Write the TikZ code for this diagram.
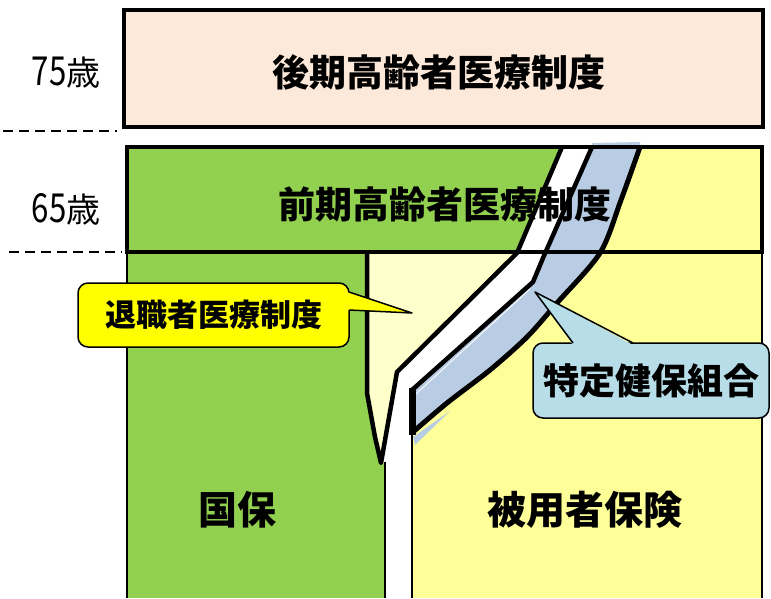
\documentclass[tikz,border=0pt]{standalone}
\usepackage{fontspec}
\newfontfamily\jp{Noto Sans CJK JP}
\definecolor{peach}{HTML}{FDE9D9}
\definecolor{kgreen}{HTML}{92D050}
\definecolor{kyellow}{HTML}{FFFF99}
\definecolor{lyellow}{HTML}{FFFFCC}
\definecolor{kblue}{HTML}{B8CCE4}
\definecolor{cblue}{HTML}{B7DDE8}
\definecolor{cyellow}{HTML}{FFFF00}
\newcommand{\agelabel}[1]{\scalebox{0.78}[1]{\fontsize{40}{40}\selectfont #1}\fontsize{34}{34}\selectfont 歳}
\tikzset{
  bigtxt/.style={font=\jp\bfseries\fontsize{37}{37}\selectfont, inner sep=0pt},
  agetxt/.style={font=\jp, inner sep=0pt},
  thick4/.style={line width=4.5pt, line join=round},
  thin1/.style={line width=1.2pt},
  ageline/.style={line width=2pt, dash pattern=on 10pt off 6pt},
  callout/.style={draw, line width=1.5pt, rounded corners=10pt, inner sep=0pt},
}
\begin{document}
\begin{tikzpicture}[x=1pt,y=-1pt]
\useasboundingbox (0,0) rectangle (771,598);
% base yellow (employee insurance)
\fill[kyellow] (127,147) rectangle (762,598);
% green: zenki part and kokuho column
\fill[kgreen] (127,147) -- (562,147) -- (517,253) -- (127,253) -- cycle;
\fill[kgreen] (127,252) rectangle (385,598);
% retiree region
\fill[lyellow] (367,252) -- (517,252) -- (397,372) -- (381,463) -- (375,437) -- (367,393) -- cycle;
\fill[lyellow!70!white] (383,462) -- (390,430) -- (394,485) -- cycle;
% white stripe
\fill[white] (562,147) -- (592,147) -- (543,258) -- (533,282) -- (412,390) -- (412,598) -- (385,598) -- (385,462) -- (382,462) -- (397,372) -- (517,253) -- cycle;
% blue band
\fill[kblue] (592,147) -- (592,143) -- (640,142) -- plot[smooth] coordinates {(640,147) (621,200) (600,253) (557,303) (527,337) (490,370) (447,403) (413,432)} -- (412,390) -- (533,282) -- (543,258) -- cycle;
\fill[kblue] (413,437) -- (450,411) -- (415,445) -- cycle;
% top box
\node[draw, fill=peach, line width=4.5pt, minimum width=639pt, minimum height=117pt, inner sep=0pt] (kouki) at (443.5,68.5) {};
\node[bigtxt] (koukitxt) at (439,72) {後期高齢者医療制度};
% column borders
\draw[thin1] (127,252) -- (127,598);
\draw[thin1] (385,462) -- (385,598);
\draw[line width=2pt] (412,434) -- (412,598);
\draw[thin1] (762,252) -- (762,598);
% zenki text
\node[bigtxt] (zenkitxt) at (445,204) {前期高齢者医療制度};
% stripe lines
\draw[thick4] (562,147) -- (517,253) -- (397,372) -- (381,463) -- (375,437) -- (367,393) -- (367,253);
\draw[thick4] (592,147) -- (543,258) -- (533,282) -- (412,390);
\draw[white, line width=0.8pt] (530,289) -- (416,394);
\draw[line width=7pt] (412,388) -- (412,435);
\draw[line width=5pt, line join=round] plot[smooth] coordinates {(640,147) (621,200) (600,253) (557,303) (527,337) (490,370) (447,403) (413,432)};
% zenki box border
\node[draw, line width=4.5pt, minimum width=635pt, minimum height=105pt, inner sep=0pt] (zenki) at (444.5,199.5) {};
% age labels and dashed lines
\node[agetxt] (age75) at (66,73) {\agelabel{75}};
\node[agetxt] (age65) at (66,209) {\agelabel{65}};
\draw[ageline] (3,131) -- (117,131);
\draw[ageline] (9,252) -- (122,252);
% column labels
\node[bigtxt, font=\jp\bfseries\fontsize{39}{39}\selectfont] (kokuho) at (237,510) {国保};
\node[bigtxt, font=\jp\bfseries\fontsize{39}{39}\selectfont] (hiyou) at (585,510) {被用者保険};
% retiree callout
\node[callout, fill=cyellow, minimum width=271pt, minimum height=64pt, font=\jp\bfseries\fontsize{31}{31}\selectfont] (taishoku) at (213.5,315) {退職者医療制度};
\fill[cyellow] (347,292) -- (412,313) -- (347,310) -- cycle;
\draw[line width=1.5pt, line join=round] (349,292) -- (412,313) -- (349,310);
% tokutei callout
\node[callout, fill=cblue, minimum width=236pt, minimum height=75pt, font=\jp\bfseries\fontsize{36}{36}\selectfont] (tokutei) at (651,380.5) {特定健保組合};
\fill[cblue] (573,345) -- (535,292) -- (633,345) -- cycle;
\draw[line width=1.5pt, line join=round] (573,343) -- (535,292) -- (633,343);
\end{tikzpicture}
\end{document}
